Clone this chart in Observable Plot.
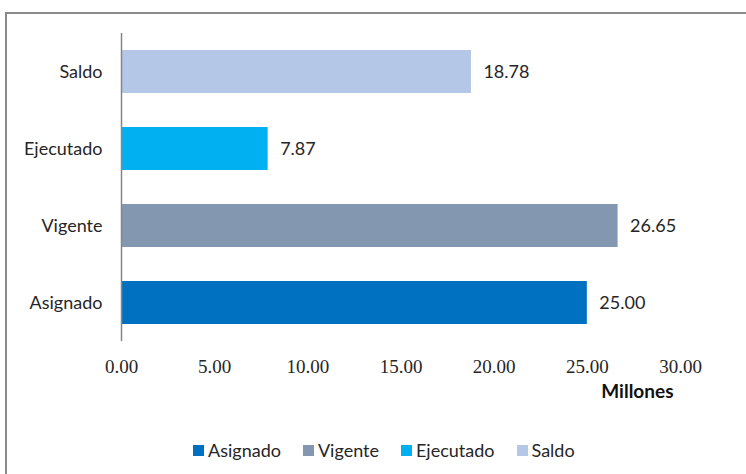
<!DOCTYPE html>
<html>
<head>
<meta charset="utf-8">
<script src="https://cdn.jsdelivr.net/npm/d3@7"></script>
<script src="https://cdn.jsdelivr.net/npm/@observablehq/plot@0.6"></script>
<style>
  html, body { margin: 0; padding: 0; background: #fff; }
  #wrap { position: relative; width: 746px; height: 474px; overflow: hidden; background: #fff; }
  #frame { position: absolute; left: 5px; top: 12px; width: 900px; height: 600px;
           border-top: 2px solid #8a8a8a; border-left: 2px solid #8a8a8a; box-sizing: border-box; }
  #chart { position: absolute; left: 0; top: 0; }
  #legend { position: absolute; left: 193px; top: 439px; display: flex; gap: 22px;
            font-family: Lato, "Open Sans", sans-serif; font-size: 18px; color: #262626; }
  .item { display: flex; align-items: center; gap: 4px; }
  .sw { width: 11px; height: 11px; display: inline-block; }
</style>
</head>
<body>
<div id="wrap">
  <div id="frame"></div>
  <div id="chart"></div>
  <div id="legend"></div>
</div>
<script>
const categories = ["Saldo", "Ejecutado", "Vigente", "Asignado"];
const values = [18.78, 7.87, 26.65, 25.00];
const colors = ["#B4C7E7", "#00B0F0", "#8497B0", "#0070C0"];
const xTicks = [0, 5, 10, 15, 20, 25, 30];
const legendOrder = ["Asignado", "Vigente", "Ejecutado", "Saldo"];
const axisUnit = "Millones";

const data = categories.map((c, i) => ({cat: c, val: values[i]}));
const fmt = d3.format(".2f");

const plot = Plot.plot({
  width: 746,
  height: 420,
  marginLeft: 121,
  marginRight: 66,
  marginTop: 33,
  marginBottom: 79,
  style: {background: "transparent", overflow: "visible"},
  x: {domain: [0, 30], ticks: xTicks},
  y: {domain: categories, paddingInner: 0.44, paddingOuter: 0.22},
  color: {domain: categories, range: colors},
  marks: [
    Plot.barX(data, {x: "val", y: "cat", fill: "cat"}),
    Plot.ruleX([0], {stroke: "#868686", strokeWidth: 1.5}),
    Plot.axisY({tickSize: 0, tickPadding: 19, label: null,
      fontFamily: "Lato, 'Open Sans', sans-serif", fontSize: 18, fill: "#262626"}),
    Plot.axisX({ticks: xTicks, tickFormat: fmt, tickSize: 0, tickPadding: 18, label: null,
      fontFamily: "'Liberation Serif', 'DejaVu Serif', serif", fontSize: 19, fill: "#262626"}),
    Plot.text(data, {x: "val", y: "cat", text: d => fmt(d.val), textAnchor: "start", dx: 12,
      fontFamily: "Lato, 'Open Sans', sans-serif", fontSize: 18, fill: "#262626"}),
    Plot.text([axisUnit], {frameAnchor: "bottom-right", textAnchor: "end", dx: -7, dy: 56,
      fontFamily: "Lato, 'Open Sans', sans-serif", fontSize: 19, fontWeight: "bold", fill: "#111"})
  ]
});
document.getElementById("chart").appendChild(plot);

const leg = document.getElementById("legend");
legendOrder.forEach(name => {
  const item = document.createElement("div");
  item.className = "item";
  const sw = document.createElement("span");
  sw.className = "sw";
  sw.style.background = colors[categories.indexOf(name)];
  const t = document.createElement("span");
  t.textContent = name;
  item.appendChild(sw);
  item.appendChild(t);
  leg.appendChild(item);
});
</script>
</body>
</html>
